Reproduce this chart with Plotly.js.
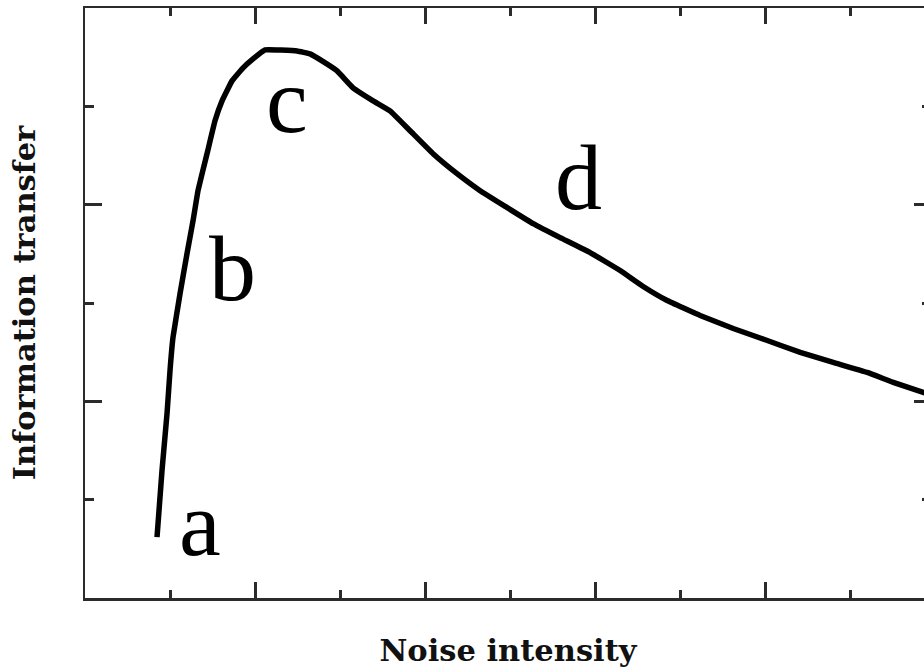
<!DOCTYPE html>
<html>
<head>
<meta charset="utf-8">
<script src="https://cdn.plot.ly/plotly-3.0.1.min.js"></script>
<style>
  html, body { margin: 0; padding: 0; background: #fff; overflow: hidden; }
  #chart { width: 940px; height: 671px; }
</style>
</head>
<body>
<div id="chart"></div>
<script>
// Information transfer as a function of noise intensity (stochastic resonance curve)
const noiseIntensity = [
  0.847, 0.906, 0.965, 1.0, 1.035, 1.118, 1.2, 1.271, 1.329, 1.435,
  1.529, 1.612, 1.729, 1.859, 1.976, 2.118, 2.494, 2.647, 2.788, 2.965,
  3.153, 3.388, 3.588, 3.824, 4.094, 4.376, 4.647, 4.965, 5.271, 5.588,
  5.941, 6.294, 6.565, 6.847, 7.235, 7.624, 8.024, 8.412, 8.8, 9.2,
  9.506, 9.859, 10.0
];
const informationTransfer = [
  0.619, 1.299, 1.878, 2.315, 2.650, 3.096, 3.503, 3.838, 4.142, 4.518,
  4.853, 5.056, 5.259, 5.391, 5.482, 5.574, 5.563, 5.533, 5.462, 5.360,
  5.188, 5.056, 4.954, 4.751, 4.518, 4.315, 4.142, 3.970, 3.807, 3.665,
  3.513, 3.330, 3.168, 3.025, 2.873, 2.741, 2.619, 2.497, 2.396, 2.294,
  2.193, 2.091, 2.05
];

// Regime labels along the curve
const regimeLabels = ['a', 'b', 'c', 'd'];
const regimeX = [1.35, 1.73, 2.38, 5.8];
const regimeY = [0.76, 3.36, 5.06, 4.28];

const axisColor = '#2b2b2b';
const titleFont = { family: 'DejaVu Serif', size: 30.5, color: '#111', weight: 'bold' };

const trace = {
  x: noiseIntensity,
  y: informationTransfer,
  type: 'scatter',
  mode: 'lines',
  line: { color: '#000', width: 5.5, shape: 'spline', smoothing: 0.25 },
  hoverinfo: 'skip'
};

const layout = {
  width: 940,
  height: 671,
  margin: { l: 85, r: 9, t: 8, b: 73 },
  paper_bgcolor: '#fff',
  plot_bgcolor: '#fff',
  showlegend: false,
  xaxis: {
    range: [0, 9.95],
    showgrid: false,
    zeroline: false,
    showline: true,
    linecolor: axisColor,
    linewidth: 2.5,
    mirror: 'ticks',
    ticks: 'inside',
    tick0: 0,
    dtick: 2,
    ticklen: 16,
    tickwidth: 3,
    tickcolor: axisColor,
    showticklabels: false,
    minor: { tick0: 1, dtick: 2, ticks: 'inside', ticklen: 8, tickwidth: 3, tickcolor: axisColor, showgrid: false },
    title: { text: 'Noise intensity', font: titleFont, standoff: 40 }
  },
  yaxis: {
    range: [0, 6],
    showgrid: false,
    zeroline: false,
    showline: true,
    linecolor: axisColor,
    linewidth: 2.5,
    mirror: 'ticks',
    ticks: 'inside',
    tick0: 0,
    dtick: 2,
    ticklen: 17,
    tickwidth: 3,
    tickcolor: axisColor,
    showticklabels: false,
    minor: { tick0: 1, dtick: 2, ticks: 'inside', ticklen: 9, tickwidth: 3, tickcolor: axisColor, showgrid: false },
    title: { text: 'Information transfer', font: titleFont, standoff: 38 }
  },
  annotations: regimeLabels.map((t, i) => ({
    x: regimeX[i],
    y: regimeY[i],
    xref: 'x',
    yref: 'y',
    text: t,
    showarrow: false,
    xanchor: 'center',
    yanchor: 'middle',
    font: { family: 'Liberation Serif', size: 94, color: '#000' }
  }))
};

Plotly.newPlot('chart', [trace], layout, { staticPlot: true, displayModeBar: false });
</script>
</body>
</html>
